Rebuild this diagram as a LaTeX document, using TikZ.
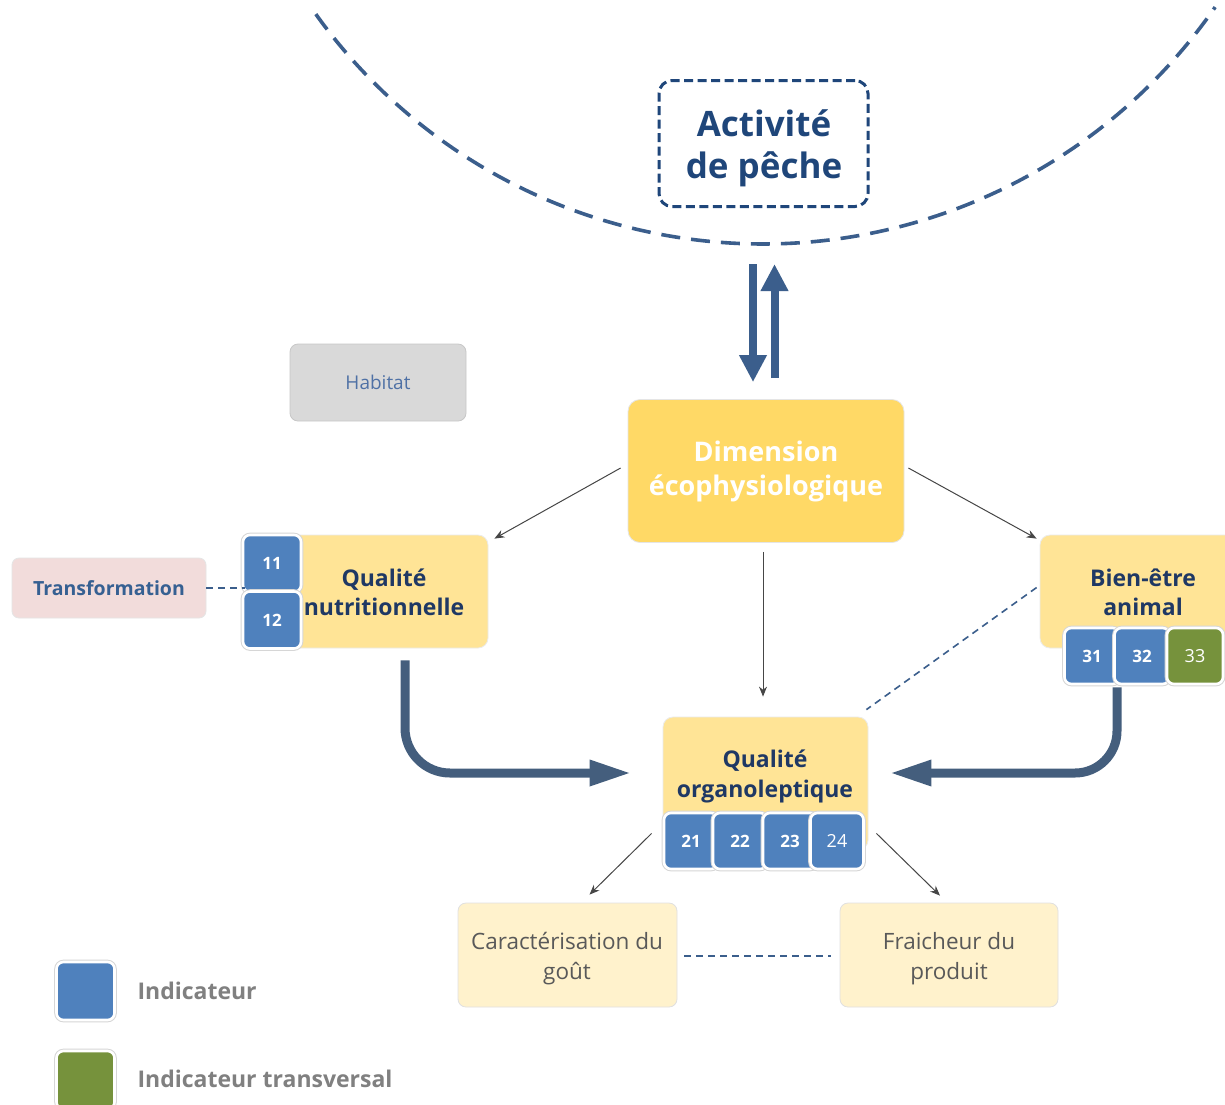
\documentclass[tikz,border=0pt]{standalone}
\usepackage{fontspec}
\setmainfont{Open Sans}
\usetikzlibrary{arrows.meta,calc}

\definecolor{arcblue}{RGB}{59,94,140}
\definecolor{actnavy}{RGB}{31,70,122}
\definecolor{darknavy}{RGB}{31,56,100}
\definecolor{dimyellow}{RGB}{255,217,102}
\definecolor{qyellow}{RGB}{255,228,150}
\definecolor{pale}{RGB}{255,242,204}
\definecolor{indblue}{RGB}{79,129,189}
\definecolor{indgreen}{RGB}{118,146,60}
\definecolor{pinkbox}{RGB}{242,220,219}
\definecolor{graybox}{RGB}{217,217,217}
\definecolor{thickblue}{RGB}{68,94,125}
\definecolor{linegray}{RGB}{70,70,70}
\definecolor{txtgray}{RGB}{89,89,89}
\definecolor{legendgray}{RGB}{128,128,128}
\definecolor{habtxt}{RGB}{79,113,165}
\definecolor{trtxt}{RGB}{54,96,146}

\tikzset{
  ybox/.style={rounded corners=10pt, fill=qyellow, draw=black!8, line width=0.8pt, inner sep=0pt},
  qtext/.style={text=darknavy, align=center, font=\bfseries\fontsize{23}{29.5}\selectfont},
  indbox/.style={rounded corners=7pt, fill=#1, draw=white, line width=2.6pt,
    preaction={draw=black!16, line width=4.6pt},
    text=white, inner sep=0pt, minimum width=54pt, minimum height=56pt},
  indbox/.default=indblue,
  numb/.style={font=\bfseries\fontsize{17}{17}\selectfont},
  numr/.style={font=\fontsize{18}{18}\selectfont},
  thinarrow/.style={draw=linegray, line width=1pt, -{Stealth[length=10pt,width=8pt]}},
  thindash/.style={draw=arcblue, line width=1.6pt, dash pattern=on 7pt off 5pt},
  bigarrow/.style={draw=thickblue, line width=9pt, -{Triangle[length=42pt,width=24pt]}},
  fluxarrow/.style={draw=arcblue, line width=8pt, -{Triangle[length=27pt,width=26pt]}},
  palebox/.style={rounded corners=8pt, fill=pale, draw=black!12, line width=0.8pt,
    inner sep=0pt, minimum width=219pt, minimum height=104pt},
  paletext/.style={text=txtgray, align=center, font=\fontsize{22.5}{30}\selectfont},
}

\begin{document}
\begin{tikzpicture}[x=1pt, y=-1pt]
\clip (0,0) rectangle (1225,1104);
\fill[white] (0,0) rectangle (1225,1104);

% dashed boundary of the fishing activity
\draw[arcblue, line width=3.6pt, dash pattern=on 19pt off 11pt]
  (763,-306) ++(144.4:550) arc[start angle=144.4, end angle=34.7, radius=550];

\node[draw=actnavy, line width=3pt, dash pattern=on 9pt off 4.5pt, rounded corners=13pt,
      minimum width=209pt, minimum height=126pt, inner sep=0pt]
  (act) at (763.5,143.5) {};
\node[text=actnavy, align=center, font=\bfseries\fontsize{35}{42}\selectfont]
  (acttxt) at (764,148.5) {Activité\\de pêche};

% central dimension
\node[rounded corners=12pt, fill=dimyellow, draw=black!10, line width=0.8pt,
      minimum width=276pt, minimum height=143pt, inner sep=0pt, text=white,
      align=center, font=\bfseries\fontsize{27}{34}\selectfont]
  (dim) at (766,471) {Dimension\\écophysiologique};

% two-way exchange with the fishing activity
\coordinate (fluxtop) at (763,264);
\draw[fluxarrow] ($(fluxtop)+(-10,0)$) -- ($(dim.north)+(-13,-17)$);
\draw[fluxarrow] ($(dim.north)+(8.5,-21)$) -- ($(fluxtop)+(11.5,0)$);

% habitat
\node[rounded corners=8pt, fill=graybox, draw=black!22, line width=0.8pt,
      minimum width=176pt, minimum height=77pt, inner sep=0pt, text=habtxt,
      font=\fontsize{19}{19}\selectfont]
  (hab) at (378,382.5) {Habitat};

% transformation
\node[rounded corners=7pt, fill=pinkbox, draw=black!10, line width=0.8pt,
      minimum width=194pt, minimum height=60pt, inner sep=0pt, text=trtxt,
      font=\bfseries\fontsize{19.5}{19.5}\selectfont]
  (tr) at (109,588) {Transformation};

% nutritional quality
\node[ybox, minimum width=243pt, minimum height=113pt] (qn) at (366.5,591.5) {};
\node[qtext] (qntxt) at (384,592.5) {Qualité\\nutritionnelle};
\node[indbox, minimum width=58pt, minimum height=57pt, numb] (i11) at (272,563.5) {11};
\node[indbox, minimum width=58pt, minimum height=57pt, numb] (i12) at (272,620) {12};

% animal welfare
\node[ybox, minimum width=200pt, minimum height=113pt] (be) at (1140,591.5) {};
\node[qtext] (betxt) at (1143,592.5) {Bien-être\\animal};
\node[indbox, minimum width=55pt, numb] (i31) at (1092,656) {31};
\node[indbox, minimum width=55pt, numb] (i32) at (1142,656) {32};
\node[indbox=indgreen, minimum width=56pt, numr] (i33) at (1195,656) {33};

% organoleptic quality
\node[ybox, minimum width=205pt, minimum height=133pt] (qo) at (765.5,783.5) {};
\node[qtext] (qotxt) at (765,776.5) {Qualité\\organoleptique};
\node[indbox, numb] (i21) at (691,841) {21};
\node[indbox, numb] (i22) at (740,841) {22};
\node[indbox, numb] (i23) at (790,841) {23};
\node[indbox, minimum width=53pt, numr] (i24) at (837,841) {24};

% taste and freshness
\node[palebox] (cg) at (567.5,955) {};
\node[paletext] (cgtxt) at (567,959) {Caractérisation du\\goût};
\node[palebox, minimum width=218pt] (fp) at (949,955) {};
\node[paletext] (fptxt) at (949,959) {Fraicheur du\\produit};

% thin links
\draw[thinarrow] ($(dim.west)+(-7,-3)$) -- ($(qn.north east)+(6,4)$);
\draw[thinarrow] ($(dim.east)+(4,-3)$) -- ($(be.north west)+(-3,4)$);
\draw[thinarrow] ($(dim.south)+(-3,9)$) -- ($(qo.north)+(-2.5,-20)$);
\draw[thinarrow] ($(qo.south west)+(-11,-17)$) -- ($(cg.north)+(22,-8)$);
\draw[thinarrow] ($(qo.south east)+(8,-17)$) -- ($(fp.north)+(-9,-7)$);

\draw[thindash] (tr.east) -- (tr.east -| qn.west);
\draw[thindash] ($(be.west)+(-3,-4)$) -- ($(qo.north east)+(-2,-7)$);
\draw[thindash] ($(cg.east)+(7,1)$) -- ($(fp.west)+(-9,1)$);

% converging thick arrows
\draw[bigarrow, rounded corners=45pt] ($(qn.south)+(38.5,12)$) |- ($(qo.west)+(-31,-10.5)$);
\draw[bigarrow, rounded corners=42pt] ($(i31.south)+(25,2)$) |- ($(qo.east)+(21,-10.5)$);

% legend
\node[indbox, minimum width=58pt, minimum height=58pt] (legb) at (85.5,991) {};
\node[indbox=indgreen, minimum width=58pt, minimum height=58pt] (legg) at (85.5,1080) {};
\node[anchor=west, text=legendgray, font=\bfseries\fontsize{23}{23}\selectfont]
  (legbt) at (134,991) {Indicateur};
\node[anchor=west, text=legendgray, font=\bfseries\fontsize{23}{23}\selectfont]
  (leggt) at (134,1079) {Indicateur transversal};
\end{tikzpicture}
\end{document}
